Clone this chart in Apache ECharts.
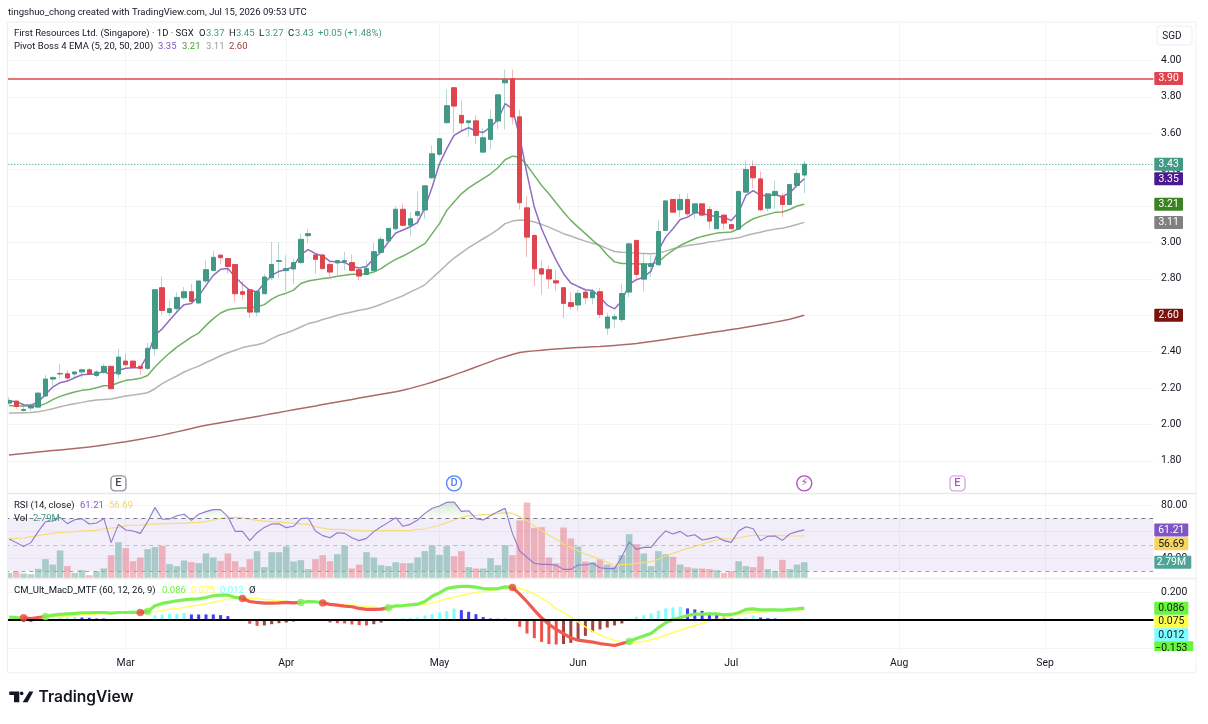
<!DOCTYPE html>
<html><head><meta charset="utf-8">
<style>html,body{margin:0;padding:0;background:#fff}#c{width:1208px;height:724px}</style>
<script src="https://cdn.jsdelivr.net/npm/echarts@6/dist/echarts.min.js"></script>
</head><body><div id="c"></div>
<script>
// [open, close, low, high]
const ohlc = [
[2.117,2.132,2.110,2.150],[2.128,2.099,2.086,2.132],[2.077,2.082,2.070,2.114],[2.090,2.101,2.071,2.117],[2.095,2.172,2.092,2.178],
[2.156,2.249,2.150,2.271],[2.249,2.258,2.212,2.264],[2.277,2.280,2.253,2.333],[2.278,2.255,2.233,2.300],[2.277,2.288,2.251,2.293],
[2.288,2.300,2.255,2.306],[2.300,2.277,2.273,2.310],[2.269,2.288,2.258,2.300],[2.286,2.319,2.278,2.333],[2.319,2.196,2.192,2.319],
[2.277,2.370,2.251,2.416],[2.348,2.328,2.319,2.388],[2.348,2.313,2.308,2.350],[2.319,2.308,2.273,2.319],[2.308,2.418,2.300,2.447],
[2.416,2.740,2.379,2.740],[2.751,2.626,2.599,2.813],[2.615,2.636,2.595,2.681],[2.636,2.698,2.608,2.727],[2.696,2.729,2.685,2.755],
[2.729,2.676,2.669,2.773],[2.667,2.788,2.663,2.791],[2.788,2.850,2.778,2.901],[2.846,2.918,2.841,2.952],[2.930,2.916,2.879,2.934],
[2.911,2.868,2.828,2.911],[2.879,2.718,2.672,2.879],[2.729,2.715,2.685,2.788],[2.740,2.617,2.585,2.740],[2.617,2.731,2.594,2.737],
[2.718,2.810,2.715,2.828],[2.806,2.879,2.795,3.002],[2.896,2.900,2.806,3.002],[2.845,2.856,2.731,2.929],[2.854,2.889,2.773,2.911],
[2.889,3.017,2.883,3.048],[3.037,3.048,2.997,3.072],[2.931,2.907,2.828,2.934],[2.931,2.856,2.850,2.934],[2.879,2.837,2.806,2.892],
[2.887,2.900,2.819,2.901],[2.894,2.900,2.846,2.949],[2.889,2.846,2.841,2.933],[2.850,2.815,2.791,2.850],[2.824,2.857,2.821,2.901],
[2.845,2.949,2.841,2.998],[2.945,3.017,2.940,3.033],[3.008,3.077,3.002,3.079],[3.075,3.182,3.063,3.198],[3.182,3.094,3.088,3.213],
[3.094,3.130,3.033,3.167],[3.149,3.169,3.094,3.280],[3.178,3.311,3.130,3.315],[3.355,3.487,3.350,3.533],[3.484,3.570,3.473,3.570],
[3.658,3.751,3.652,3.841],[3.850,3.749,3.601,3.850],[3.698,3.656,3.615,3.780],[3.658,3.668,3.579,3.668],[3.668,3.588,3.542,3.698],
[3.496,3.575,3.496,3.630],[3.566,3.676,3.509,3.729],[3.667,3.811,3.621,3.811],[3.877,3.896,3.621,3.949],[3.899,3.689,3.648,3.949],
[3.690,3.218,3.181,3.729],[3.190,3.029,2.919,3.253],[3.038,2.855,2.760,3.048],[2.855,2.826,2.712,2.901],[2.850,2.799,2.744,2.874],
[2.789,2.777,2.736,2.850],[2.751,2.665,2.584,2.751],[2.669,2.648,2.630,2.727],[2.656,2.720,2.623,2.740],[2.727,2.696,2.659,2.745],
[2.696,2.729,2.659,2.745],[2.729,2.604,2.584,2.751],[2.529,2.590,2.493,2.614],[2.579,2.592,2.529,2.608],[2.576,2.719,2.562,2.772],
[2.727,2.992,2.699,3.001],[3.011,2.824,2.800,3.011],[2.798,2.882,2.730,2.937],[2.868,2.882,2.809,2.932],[2.877,3.060,2.873,3.120],
[3.066,3.228,3.062,3.234],[3.236,3.166,3.166,3.236],[3.179,3.236,3.139,3.267],[3.236,3.157,3.142,3.267],[3.163,3.212,3.131,3.212],
[3.212,3.150,3.142,3.212],[3.181,3.117,3.071,3.197],[3.075,3.170,3.073,3.179],[3.150,3.106,3.069,3.157],[3.098,3.075,3.073,3.100],
[3.073,3.280,3.069,3.285],[3.276,3.401,3.274,3.450],[3.417,3.355,3.298,3.450],[3.349,3.179,3.172,3.390],[3.188,3.267,3.172,3.267],
[3.258,3.280,3.185,3.340],[3.252,3.208,3.139,3.271],[3.208,3.318,3.208,3.318],[3.313,3.379,3.311,3.401],[3.37,3.43,3.27,3.45]];

const ema5 = [2.128,2.125,2.108,2.105,2.123,2.165,2.205,2.229,2.238,2.256,2.273,2.275,2.277,2.293,2.269,2.297,2.308,2.311,2.311,2.380,
2.490,2.525,2.572,2.618,2.658,2.664,2.705,2.764,2.819,2.852,2.856,2.810,2.770,2.737,2.728,2.777,2.819,2.841,2.850,2.868,
2.933,2.960,2.938,2.925,2.896,2.892,2.890,2.868,2.859,2.868,2.911,2.947,3.002,3.052,3.068,3.086,3.110,3.190,3.304,3.432,
3.515,3.588,3.612,3.630,3.612,3.604,3.634,3.674,3.762,3.734,3.579,3.377,3.194,3.075,2.984,2.901,2.828,2.777,2.758,2.740,
2.736,2.700,2.655,2.635,2.678,2.770,2.795,2.809,2.842,2.956,3.029,3.075,3.126,3.139,3.164,3.161,3.148,3.142,3.139,3.120,
3.166,3.258,3.285,3.258,3.258,3.261,3.252,3.272,3.313,3.35];
const ema20 = [2.104,2.101,2.101,2.101,2.101,2.114,2.136,2.154,2.167,2.178,2.187,2.192,2.201,2.212,2.214,2.229,2.242,2.247,2.253,2.269,
2.315,2.355,2.392,2.425,2.452,2.480,2.502,2.544,2.581,2.612,2.630,2.637,2.639,2.639,2.646,2.658,2.688,2.709,2.721,2.738,
2.774,2.788,2.795,2.801,2.806,2.814,2.819,2.825,2.825,2.828,2.837,2.856,2.883,2.907,2.925,2.947,2.970,2.993,3.048,3.103,
3.176,3.222,3.267,3.300,3.326,3.350,3.377,3.410,3.454,3.474,3.469,3.423,3.368,3.313,3.267,3.216,3.167,3.121,3.084,3.048,
3.011,2.978,2.931,2.893,2.884,2.884,2.882,2.882,2.882,2.891,2.928,2.956,2.983,3.002,3.020,3.033,3.042,3.051,3.055,3.057,
3.075,3.106,3.130,3.143,3.154,3.165,3.167,3.181,3.200,3.21];
const ema50 = [2.062,2.062,2.064,2.066,2.070,2.077,2.086,2.097,2.106,2.114,2.121,2.128,2.134,2.137,2.139,2.148,2.156,2.161,2.167,2.174,
2.196,2.224,2.246,2.266,2.288,2.305,2.320,2.340,2.358,2.377,2.394,2.407,2.422,2.431,2.438,2.449,2.471,2.490,2.502,2.517,
2.535,2.554,2.563,2.576,2.587,2.600,2.609,2.618,2.627,2.634,2.645,2.660,2.676,2.691,2.707,2.728,2.746,2.767,2.804,2.841,
2.879,2.914,2.943,2.971,2.996,3.020,3.044,3.070,3.103,3.117,3.123,3.121,3.112,3.099,3.084,3.066,3.048,3.035,3.020,3.007,
2.995,2.984,2.966,2.950,2.946,2.944,2.941,2.939,2.937,2.941,2.952,2.965,2.974,2.983,2.989,2.994,3.002,3.007,3.014,3.020,
3.025,3.038,3.047,3.056,3.066,3.073,3.078,3.087,3.098,3.11];
const ema200 = [1.832,1.836,1.840,1.844,1.848,1.852,1.856,1.860,1.864,1.868,1.872,1.876,1.881,1.887,1.893,1.899,1.905,1.912,1.919,1.926,
1.933,1.941,1.950,1.959,1.968,1.977,1.987,1.995,2.002,2.009,2.016,2.023,2.030,2.037,2.044,2.051,2.058,2.065,2.073,2.080,
2.087,2.094,2.101,2.109,2.116,2.123,2.130,2.137,2.145,2.152,2.159,2.166,2.173,2.180,2.188,2.198,2.209,2.220,2.232,2.245,
2.258,2.272,2.286,2.300,2.315,2.330,2.345,2.360,2.372,2.384,2.395,2.400,2.404,2.408,2.411,2.414,2.417,2.420,2.422,2.424,
2.426,2.428,2.431,2.434,2.437,2.441,2.445,2.450,2.455,2.461,2.467,2.473,2.479,2.485,2.491,2.497,2.503,2.509,2.515,2.521,
2.527,2.534,2.541,2.548,2.555,2.562,2.569,2.578,2.589,2.600];

const volumeM = [.97,1.25,.86,.74,1.65,3.31,2.39,4.79,2.11,.97,1.43,.57,1.25,1.71,3.99,6.21,5.19,2.96,3.59,5.02,
5.36,5.59,2.45,2.11,3.08,2.79,2.62,4.28,3.59,3.02,4.28,2.96,1.94,3.31,4.67,1.94,4.50,4.50,5.47,2.91,
3.14,1.60,3.31,3.99,2.96,4.16,5.64,1.71,2.39,4.50,3.59,2.28,2.11,2.79,2.62,2.62,3.59,4.67,5.64,4.05,
5.53,3.82,4.67,1.94,1.71,1.71,3.48,2.28,5.70,3.99,9.92,13.0,8.66,8.78,3.59,2.62,8.72,6.84,5.47,2.91,
2.79,3.31,2.39,2.05,3.99,7.58,5.87,4.28,2.11,4.67,4.16,3.71,2.39,1.94,1.71,1.71,1.60,1.43,.97,1.25,
2.96,2.11,1.94,3.76,1.60,1.25,3.19,1.60,2.39,2.79];

const rsi = [54.3,51.6,48.6,51.6,59.9,67.4,67.9,70.7,65.9,68.9,69.7,65.7,66.4,69.7,51.6,65.4,61.1,60.4,58.6,67.4,
78.2,69.2,69.4,71.9,73,68.4,73,75,76.5,76.5,71.2,60.1,60.1,53.1,59.1,63.1,65.7,65.9,62.9,63.9,
69.7,70.2,60.4,56.9,55.3,59.1,58.6,55.3,53.1,54.8,59.9,63.6,66.9,70.4,63.9,65.4,68.7,73.7,77.5,79.2,
82.0,82.3,75.2,75.7,69.7,68.7,72,75,77.5,58.6,45.3,40.5,36,35.2,35.2,34.5,31.4,31.4,34.7,34.7,
36,32.7,32,32,41,52.1,46.5,48,48,54.8,60.4,58.1,60.1,56.4,57.6,53.6,54.6,56.1,53.1,51.8,
60.4,63.6,62.1,53.1,56.4,56.6,53.3,58.1,59.9,61.21];
const rsiMa = [54.3,54.8,55.1,56.1,56.9,57.9,58.6,59.4,59.6,59.9,60.4,60.4,61.1,62.1,62.6,63.1,64.4,64.7,64.7,65.4,
65.7,65.7,65.9,66.2,66.2,66.7,66.9,67.4,68.7,69.7,70.4,70.7,70.4,69.4,68.4,67.9,67.4,67.2,66.7,66.2,
65.7,65.4,63.6,62.6,61.6,61.6,61.4,61.1,60.6,60.4,60.4,60.6,60.9,60.9,60.6,60.9,61.6,61.9,63.4,64.7,
66.7,68.7,70.7,71.9,72.2,72.7,73,73.5,74.2,73.7,71.2,68.2,64.2,60.6,57.1,54.1,50.6,48,45.5,43,
41,39,36.5,34.5,35,35.2,36,36.5,37.2,39,41.5,43.5,45.5,47.3,48.8,50.6,52.3,53.6,54.6,54.3,
55.1,56.4,57.1,57.1,56.9,57.1,56.9,56.6,56.6,56.69];

const macd = [.022,.019,.017,.012,.019,.026,.036,.041,.045,.048,.053,.053,.055,.055,.050,.055,.055,.057,.055,.062,
.103,.120,.129,.139,.146,.151,.153,.163,.175,.180,.180,.163,.156,.134,.127,.122,.122,.124,.127,.124,
.127,.134,.132,.124,.113,.108,.101,.096,.084,.077,.077,.079,.089,.103,.105,.110,.115,.134,.172,.196,
.227,.237,.242,.242,.237,.227,.225,.227,.239,.235,.187,.132,.072,.017,-.029,-.067,-.096,-.127,-.144,-.151,
-.158,-.168,-.175,-.182,-.168,-.153,-.132,-.113,-.096,-.055,-.019,.005,.017,.034,.043,.043,.045,.045,.038,.041,
.053,.077,.081,.074,.074,.074,.072,.077,.081,.086];
const signal = [.022,.019,.017,.014,.014,.017,.022,.026,.029,.034,.038,.041,.045,.048,.048,.050,.053,.053,.055,.057,
.062,.069,.077,.084,.091,.101,.108,.117,.129,.141,.151,.156,.158,.158,.156,.148,.144,.139,.134,.129,
.127,.127,.127,.124,.117,.113,.110,.108,.103,.098,.093,.089,.086,.093,.098,.105,.110,.113,.124,.139,
.153,.165,.177,.187,.196,.206,.213,.220,.230,.235,.227,.211,.187,.156,.127,.081,.057,.024,-.012,-.048,
-.081,-.105,-.127,-.146,-.156,-.160,-.158,-.151,-.141,-.127,-.108,-.089,-.072,-.055,-.038,-.022,-.007,.005,.017,.031,
.043,.050,.055,.060,.062,.065,.067,.069,.072,.075];
const histogram = [0,0,-.014,-.014,0,.005,.012,.017,.019,.022,.019,.017,.012,.012,0,0,0,0,0,0,
.034,.041,.043,.045,.050,.041,.041,.041,.041,.036,.029,0,-.007,-.026,-.041,-.038,-.029,-.022,-.017,-.010,
0,.007,0,-.007,-.017,-.022,-.024,-.031,-.036,-.038,-.029,-.017,0,.012,.014,.017,.019,.034,.043,.055,
.065,.084,.072,.060,.043,.022,.012,.010,.010,0,-.048,-.096,-.129,-.156,-.172,-.175,-.172,-.163,-.139,-.113,
-.086,-.067,-.053,-.038,-.024,.012,.024,.036,.048,.067,.084,.091,.096,.084,.077,.067,.053,.041,.024,.012,
.010,.019,.034,.019,.014,.012,0,0,0,.012];
// bars at which the MACD line crosses its signal; the first flip goes to red, then alternates
const crossBars = [2,5,18,19,32,40,43,52,69,85];

const monthBars = {16:'Mar',38:'Apr',59:'May',78:'Jun',99:'Jul',122:'Aug',142:'Sep'};
const barSlots = 158;
const categories = Array.from({length:barSlots},(_,i)=>monthBars[i]||'');
const priceTicks = {min:1.6,max:4.2,step:0.2};

const GREEN='#429985',RED='#E0444F',GREEN_PALE='rgba(66,153,133,.38)',RED_PALE='rgba(224,68,79,.38)';
const FONT='Roboto, sans-serif', FS=10.4, LEGEND_FS=9.5;
const BAND=7.296, LEFT=9-BAND/2, GW=BAND*barSlots, RIGHT=LEFT+GW;

const priceBadges=[[3.90,'3.90',RED,'#fff',0],[3.43,'3.43',GREEN,'#fff',0],[3.35,'3.35','#4A1A8E','#fff',0],[3.21,'3.21','#3C8224','#fff',0],[3.11,'3.11','#808080','#fff',0],[2.60,'2.60','#7A120E','#fff',0]];
const rsiBadges=[[61.21,'61.21','#7E57C2','#fff',34,0],[56.69,'56.69','#F6D55C','#131722',34,7.8]];
const volBadges=[[2.79,'2.79M','#4FA397','#fff',37,0]];
const macdBadges=[[.086,'0.086','#69F53A','#131722',34,0],[.075,'0.075','#FFFF4A','#131722',34,11.8],[.012,'0.012','#7DFFFF','#131722',34,16.2],[-.153,'\u22120.153','#69F53A','#131722',39,6.3]];

function badgeSeries(rows,xi,yi,defaultW){
  return {type:'custom',xAxisIndex:xi,yAxisIndex:yi,z:100,silent:true,clip:false,animation:false,
    data:rows.map(r=>[0,r[0]]),encode:{x:0,y:1},
    renderItem(p,api){
      const r=rows[p.dataIndex];
      const w=defaultW||r[4];
      const shift=defaultW?0:(r[5]||0);
      const y=api.coord([0,r[0]])[1]+shift;
      return {type:'group',children:[
        {type:'rect',shape:{x:1154.3,y:y-6.5,width:w,height:13,r:1},style:{fill:r[2]}},
        {type:'text',style:{x:1154.3+(defaultW?w/2:17),y:y+.3,text:r[1],fill:r[3],font:FS+'px '+FONT,align:'center',verticalAlign:'middle'}}
      ]};
    }};
}
const redSeg=[],greenSeg=[];
(function(){
  const flips=crossBars;
  let cur=0;
  macd.forEach((v,i)=>{
    const isRed=(cur%2)===1;
    if(cur<flips.length&&i===flips[cur]){ redSeg[i]=v; greenSeg[i]=v; cur++; }
    else if(isRed){ redSeg[i]=v; greenSeg[i]=null; }
    else { greenSeg[i]=v; redSeg[i]=null; }
  });
})();

const histColored=histogram.map((v,i)=>{
  const prev=i?histogram[i-1]:0;
  const c=v>=0?(v>prev?'#7DFFFF':'#3F3FF0'):(v<prev||v===prev?'#F0504C':'#A2443F');
  return {value:v,itemStyle:{color:c}};
});
const volColored=volumeM.map((v,i)=>({value:v,itemStyle:{color:ohlc[i][1]>=ohlc[i][0]?'rgba(66,153,133,.42)':'rgba(224,68,79,.36)'}}));

function hiddenX(g){return {type:'category',gridIndex:g,data:categories,show:false,boundaryGap:true,silent:true};}
const gridLine={show:true,lineStyle:{color:'#F4F4F5',width:1},showMinLine:false,showMaxLine:false};
const labelBase={color:'#131722',fontFamily:FONT,fontSize:FS,margin:3,padding:[2,0,0,0]};
function lineS(name,data,color,width,xi,yi,z){return {name,type:'line',xAxisIndex:xi,yAxisIndex:yi,data,symbol:'none',z:z||2,
  connectNulls:false,smooth:false,lineStyle:{color,width},itemStyle:{color},silent:true,animation:false};}

const texts=[
 ['tingshuo_chong created with TradingView.com, Jul 15, 2026 09:53 UTC',8,13,'#131722'],
 ['First Resources Ltd. (Singapore) \u00B7 1D \u00B7 SGX',14,33.5,'#131722'],
 ['O',199,33.5,'#131722'],['3.37',206,33.5,GREEN],['H',229,33.5,'#131722'],['3.45',236,33.5,GREEN],
 ['L',259,33.5,'#131722'],['3.27',265,33.5,GREEN],['C',288,33.5,'#131722'],['3.43',295,33.5,GREEN],['+0.05 (+1.48%)',318,33.5,GREEN],
 ['Pivot Boss 4 EMA (5, 20, 50, 200)',14,47,'#131722'],['3.35',158,47,'#7E57C2'],['3.21',182,47,'#4C9A3A'],['3.11',206,47,'#9A9A9A'],['2.60',229,47,'#A0403C'],
 ['RSI (14, close)',14,505.7,'#131722'],['61.21',80,505.7,'#7E57C2'],['56.69',109,505.7,'#F6D55C'],
 ['Vol',14,519,'#131722'],['2.79M',33,519,GREEN],
 ['CM_Ult_MacD_MTF (60, 12, 26, 9)',14,590.7,'#131722'],['0.086',162,590.7,'#69F53A'],['0.075',191,590.7,'#FFFF4A'],['0.012',220,590.7,'#7DFFFF'],['\u00D8',249,590.7,'#131722']
];
const graphics=[
 {type:'rect',z:50,silent:true,shape:{x:0,y:21,width:7.5,height:635},style:{fill:'#fff'}},
 {type:'rect',z:50,silent:true,shape:{x:1153.5,y:23,width:RIGHT-1153.5+2,height:630},style:{fill:'#fff'}},
 {type:'rect',z:60,silent:true,shape:{x:7.5,y:22,width:1188.5,height:650.7},style:{fill:'none',stroke:'#EFEFF0',lineWidth:1}},
 {type:'line',z:60,silent:true,shape:{x1:8,y1:493.5,x2:1196,y2:493.5},style:{stroke:'#E9E9EA',lineWidth:1.3}},
 {type:'line',z:60,silent:true,shape:{x1:8,y1:578.5,x2:1196,y2:578.5},style:{stroke:'#EDEDEE',lineWidth:1.3}},
 {type:'rect',z:150,silent:true,shape:{x:1153.5,y:651,width:42,height:12},style:{fill:'#fff'}},
 {type:'rect',z:70,silent:true,shape:{x:1157,y:26,width:35,height:19,r:3},style:{fill:'#fff',stroke:'#EEEEF0',lineWidth:1}},
 {type:'text',z:71,silent:true,style:{x:1172,y:36,text:'SGD',fill:'#131722',font:(FS-.4)+'px '+FONT,align:'center',verticalAlign:'middle'}},
 {type:'polygon',z:70,silent:true,shape:{points:[[9.3,691.6],[19.3,691.6],[19.3,702.3],[14,702.3],[14,695],[9.3,695]]},style:{fill:'#131722'}},
 {type:'circle',z:70,silent:true,shape:{cx:21.7,cy:693.4,r:1.8},style:{fill:'#131722'}},
 {type:'polygon',z:70,silent:true,shape:{points:[[29.3,691.6],[33.4,691.6],[27.6,702.3],[22.7,702.3]]},style:{fill:'#131722'}},
 {type:'text',z:70,silent:true,style:{x:38.5,y:697,text:'TradingView',fill:'#131722',font:'600 15.6px Inter, sans-serif',verticalAlign:'middle'}}
];
texts.forEach(t=>graphics.push({type:'text',z:70,silent:true,style:{x:t[1],y:t[2],text:t[0],fill:t[3],font:LEGEND_FS+'px '+FONT,verticalAlign:'middle'}}));

// event markers below the candles
const markerRows=[[15,1.676,'E','#787B86','#131722','roundRect'],[61,1.676,'D','#2962FF','#2962FF','circle'],[109,1.676,'\u26A1','#9C27B0','#9C27B0','circle'],[130,1.676,'E','#CE93D8','#9C27B0','roundRect']];

const option={
 animation:false,backgroundColor:'#fff',
 graphic:{elements:graphics},
 grid:[
  {left:LEFT,width:GW,top:24,height:473.2},
  {left:LEFT,width:GW,top:478.5,height:106},
  {left:LEFT,width:GW,top:493,height:85.5},
  {left:LEFT,width:GW,top:564.45,height:111.4},
  {left:LEFT,width:GW,top:23,height:628}
 ],
 xAxis:[hiddenX(0),hiddenX(1),hiddenX(2),hiddenX(3),
  {type:'category',gridIndex:4,data:categories,boundaryGap:true,silent:true,
   axisLine:{show:false},axisTick:{show:false},
   axisLabel:{interval:(i,v)=>v!=='',color:'#131722',fontFamily:FONT,fontSize:FS,margin:7},
   splitLine:{show:true,interval:(i,v)=>v!=='',alignWithLabel:true,lineStyle:{color:'#F4F4F5',width:1}}}
 ],
 yAxis:[
  {type:'value',gridIndex:0,position:'right',min:priceTicks.min,max:priceTicks.max,interval:priceTicks.step,silent:true,
   axisLine:{show:false},axisTick:{show:false},splitLine:gridLine,
   axisLabel:{...labelBase,showMinLabel:false,showMaxLabel:false,formatter:v=>(v<1.7||v>4.1)?'':v.toFixed(2)}},
  {type:'value',gridIndex:1,position:'right',min:20,max:100,interval:20,silent:true,
   axisLine:{show:false},axisTick:{show:false},splitLine:gridLine,
   axisLabel:{...labelBase,showMinLabel:false,showMaxLabel:false,formatter:v=>(v<30||v>90)?'':v.toFixed(2)}},
  {type:'value',gridIndex:2,min:0,max:14.62,show:false},
  {type:'value',gridIndex:3,position:'right',min:-.4,max:.4,interval:.2,silent:true,
   axisLine:{show:false},axisTick:{show:false},splitLine:gridLine,
   axisLabel:{...labelBase,showMinLabel:false,showMaxLabel:false,formatter:v=>Math.abs(v-.2)<.01?'0.200':''}},
  {type:'value',gridIndex:4,show:false}
 ],
 series:[
  lineS('EMA 200',ema200,'#AA6A68',1.5,0,0),
  lineS('EMA 50',ema50,'#B6B3B3',1.5,0,0),
  lineS('EMA 20',ema20,'#72B066',1.5,0,0),
  lineS('EMA 5',ema5,'#8E6DC4',1.5,0,0),
  {name:'wicks',type:'candlestick',xAxisIndex:0,yAxisIndex:0,z:3,barWidth:1,silent:true,animation:false,
   itemStyle:{color:GREEN_PALE,color0:RED_PALE,borderColor:GREEN_PALE,borderColor0:RED_PALE,borderWidth:1},
   data:ohlc,
   markLine:{silent:true,symbol:'none',label:{show:false},animation:false,z:4,data:[
     {yAxis:3.90,lineStyle:{color:RED,width:1.5,type:'solid'}},
     {yAxis:3.43,lineStyle:{color:'#2F9E86',width:1,type:[1,2]}}
   ]}},
  {name:'bodies',type:'candlestick',xAxisIndex:0,yAxisIndex:0,z:4,barWidth:5,silent:true,animation:false,
   itemStyle:{color:GREEN,color0:RED,borderColor:GREEN,borderColor0:RED,borderWidth:1},
   data:ohlc.map(r=>[r[0],r[1],Math.min(r[0],r[1]),Math.max(r[0],r[1])])},
  {name:'events',type:'scatter',xAxisIndex:0,yAxisIndex:0,z:5,silent:true,animation:false,
   data:markerRows.map(r=>({value:[r[0],r[1]],symbol:r[5],symbolSize:15,
     itemStyle:{color:'#fff',borderColor:r[3],borderWidth:1.4},
     label:{show:true,position:'inside',formatter:r[2],color:r[4],fontFamily:r[2]==='\u26A1'?'DejaVu Sans':FONT,fontSize:11,fontWeight:500}}))},
  badgeSeries(priceBadges,0,0,28.7),

  {name:'Vol',type:'bar',xAxisIndex:2,yAxisIndex:2,barWidth:6.6,z:2,silent:true,animation:false,data:volColored},
  {name:'RSI over',type:'line',xAxisIndex:1,yAxisIndex:1,symbol:'none',silent:true,z:3,animation:false,
   data:rsi.map(v=>Math.max(v,70)),lineStyle:{width:0,opacity:0},
   areaStyle:{origin:70,color:{type:'linear',x:0,y:0,x2:0,y2:1,colorStops:[{offset:0,color:'rgba(76,175,80,.35)'},{offset:1,color:'rgba(76,175,80,.04)'}]}}},
  lineS('RSI MA',rsiMa,'#F8DC78',1.2,1,1,4),
  Object.assign(lineS('RSI',rsi,'#9178CC',1.1,1,1,5),{
    markArea:{silent:true,animation:false,itemStyle:{color:'rgba(126,87,194,.1)'},data:[[{yAxis:30},{yAxis:70}]]},
    markLine:{silent:true,symbol:'none',label:{show:false},animation:false,data:[
      {yAxis:70,lineStyle:{color:'#787B86',width:1,type:[4,4]}},
      {yAxis:50,lineStyle:{color:'#BDBEC4',width:1,type:[4,4]}},
      {yAxis:30,lineStyle:{color:'#A0A2A9',width:1,type:[4,4]}}
    ]}}),
  badgeSeries(rsiBadges,1,1),
  badgeSeries(volBadges,2,2),

  {name:'Histogram',type:'bar',xAxisIndex:3,yAxisIndex:3,barWidth:3,z:2,silent:true,animation:false,data:histColored},
  lineS('Signal',signal,'#FFFF66',1.5,3,3,3),
  lineS('MACD up',greenSeg,'#7CF052',3.2,3,3,4),
  Object.assign(lineS('MACD down',redSeg,'#EF5B50',3.2,3,3,4),{
    markLine:{silent:true,symbol:'none',label:{show:false},animation:false,z:5,data:[{yAxis:0,lineStyle:{color:'#000',width:2,type:'solid'}}]}}),
  {name:'Crosses',type:'scatter',xAxisIndex:3,yAxisIndex:3,z:6,silent:true,animation:false,symbolSize:7.5,
   data:crossBars.map((b,k)=>({value:[b,macd[b]],itemStyle:{color:k%2===0?'#EF4A3E':'#7CF052'}}))},
  badgeSeries(macdBadges,3,3)
 ]
};
const chart=echarts.init(document.getElementById('c'),null,{renderer:'canvas',width:1208,height:724});
chart.setOption(option);
</script></body></html>
